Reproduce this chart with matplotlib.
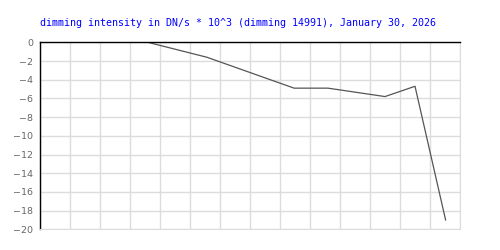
import numpy as np
import matplotlib
matplotlib.use("Agg")
import matplotlib.pyplot as plt

# readings (x in grid units, 14 columns across the plot)
times = [3.6, 5.57, 8.47, 9.6, 11.5, 12.5, 13.52]
intensity = [0.0, -1.6, -4.9, -4.9, -5.8, -4.7, -19.0]
y_ticks = list(range(0, -21, -2))
title = "dimming intensity in DN/s * 10^3 (dimming 14991), January 30, 2026"

grid_col = "#dcdcdc"

fig = plt.figure(figsize=(5, 2.5), dpi=100)
ax = fig.add_axes([0.08, 0.0828, 0.84, 0.7478])

ax.plot(times, intensity, color="#555555", linewidth=0.9)

ax.set_xlim(0, 14)
ax.set_ylim(-20, 0)
ax.set_xticks(np.arange(0, 15, 1))
ax.set_yticks(y_ticks)
ax.set_yticklabels([str(v).replace("-", "\u2212") for v in y_ticks])
ax.tick_params(axis="x", length=0, labelbottom=False)
ax.tick_params(axis="y", length=0, pad=5, labelsize=6.8, labelcolor="#666666")
ax.grid(True, color=grid_col, linewidth=1)
ax.set_axisbelow(True)

ax.spines["left"].set_color("black")
ax.spines["top"].set_color("black")
ax.spines["left"].set_linewidth(1)
ax.spines["top"].set_linewidth(1)
ax.spines["right"].set_color(grid_col)
ax.spines["bottom"].set_color(grid_col)

fig.text(0.08, 0.908, title, color="#0000ff", fontsize=7.2,
         family="DejaVu Sans Mono", ha="left", va="center")

fig.savefig("out.png", dpi=100)
